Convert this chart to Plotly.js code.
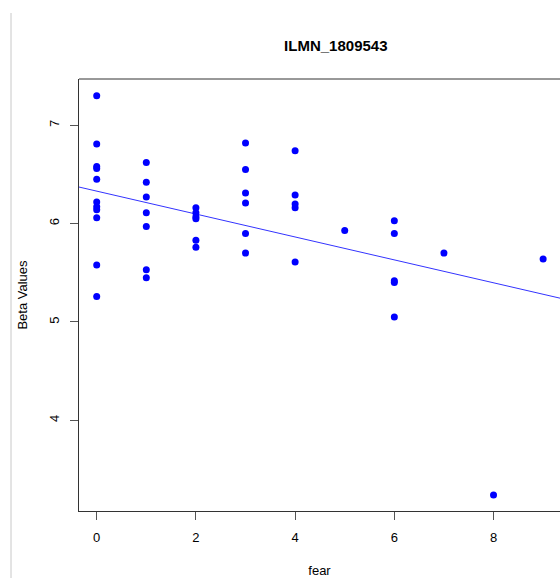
<!DOCTYPE html>
<html>
<head>
<meta charset="utf-8">
<script src="https://cdn.plot.ly/plotly-3.0.1.min.js"></script>
<style>html,body{margin:0;padding:0;background:#fff;}#chart{width:560px;height:578px;}</style>
</head>
<body>
<div id="chart"></div>
<script>
// Data
const fear = [0,0,0,0,0,0,0,0,0,0,0,
              1,1,1,1,1,1,1,
              2,2,2,2,2,2,
              3,3,3,3,3,3,
              4,4,4,4,4,
              5,
              6,6,6,6,6,
              7,
              8,
              9];
const beta = [7.30,6.81,6.58,6.56,6.45,6.22,6.17,6.14,6.06,5.58,5.26,
              6.62,6.42,6.27,6.11,5.97,5.53,5.45,
              6.16,6.11,6.07,6.05,5.83,5.76,
              6.82,6.55,6.31,6.21,5.90,5.70,
              6.74,6.29,6.20,6.16,5.61,
              5.93,
              6.03,5.90,5.42,5.40,5.05,
              5.70,
              3.24,
              5.64];
const xTicks = [0,2,4,6,8];
const yTicks = [4,5,6,7];
const titleText = "ILMN_1809543";
const xLabel = "fear";
const yLabel = "Beta Values";
// fitted regression line (abline)
const fitIntercept = 6.33;
const fitSlope = -0.1165;

const xr = [-0.357, 9.34];
const lineX = [xr[0]-1, xr[1]+1];
const lineY = lineX.map(v => fitIntercept + fitSlope*v);

const font = {family: "Liberation Sans, Arial, sans-serif", color: "#000"};

const traces = [
  {x: lineX, y: lineY, mode: "lines", type: "scatter",
   line: {color: "#3333ff", width: 1}, hoverinfo: "skip", showlegend: false},
  {x: fear, y: beta, mode: "markers", type: "scatter",
   marker: {color: "#0000ff", size: 7}, showlegend: false}
];

const layout = {
  width: 560, height: 578,
  margin: {l: 79, r: 0, t: 79, b: 67, pad: 0},
  paper_bgcolor: "#fff", plot_bgcolor: "#fff",
  font: Object.assign({size: 13}, font),
  title: {text: "<b>" + titleText + "</b>", x: 299/560, xanchor: "center", xref: "paper",
          y: 1 - 46/578, yanchor: "middle", yref: "container",
          font: Object.assign({}, font, {size: 15})},
  xaxis: {range: xr, tickvals: xTicks, ticktext: xTicks.map(String),
          showgrid: false, zeroline: false, showline: true, linecolor: "#333", linewidth: 1,
          ticks: "outside", ticklen: 8, tickcolor: "#555", tickwidth: 1,
          ticklabelstandoff: 6, tickfont: Object.assign({}, font, {size: 13}),
          title: {text: xLabel, standoff: 23, font: Object.assign({}, font, {size: 13})},
          automargin: false, fixedrange: true},
  yaxis: {range: [3.078, 7.47], tickvals: yTicks, ticktext: yTicks.map(String),
          showgrid: false, zeroline: false, showline: true, linecolor: "#333", linewidth: 1,
          ticks: "outside", ticklen: 8, tickcolor: "#555", tickwidth: 1, tickangle: -90,
          ticklabelstandoff: 6, tickfont: Object.assign({}, font, {size: 13}),
          title: {text: yLabel, standoff: 16, font: Object.assign({}, font, {size: 13})},
          automargin: false, fixedrange: true},
  shapes: [
    {type: "line", xref: "paper", yref: "paper", x0: 0, x1: 1.01, y0: 1, y1: 1,
     line: {color: "#333", width: 1}},
    {type: "line", xref: "paper", yref: "paper", x0: (11-79)/481, x1: (11-79)/481,
     y0: (511-13)/432, y1: (511-580)/432, line: {color: "#c8c8c8", width: 1}}
  ]
};

Plotly.newPlot("chart", traces, layout, {displayModeBar: false, staticPlot: true});
</script>
</body>
</html>
